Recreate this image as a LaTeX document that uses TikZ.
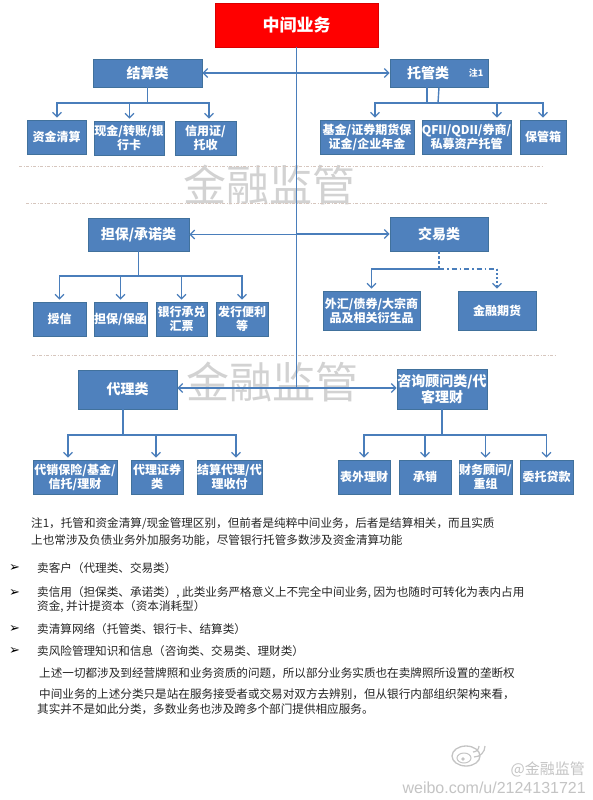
\documentclass[tikz,border=0pt]{standalone}
\usepackage{fontspec}
\setmainfont{Noto Sans CJK SC}
\newfontfamily\dejavu{DejaVu Sans}
\newfontfamily\liber{Liberation Sans}
\usetikzlibrary{arrows.meta}
\definecolor{boxblue}{HTML}{4F81BD}
\definecolor{boxedge}{HTML}{41719C}
\definecolor{conn}{HTML}{4A7EBB}
\definecolor{wm}{HTML}{D2D2D2}
\definecolor{sep}{HTML}{D6C6BE}
\definecolor{wbgray}{HTML}{C4C4C4}
\newcommand\bnode[7][]{\node[box,#1,minimum width={#4-#2},minimum height={#5-#3}] (#6) at ({(#2+#4)/2},{(#3+#5)/2}) {#7};}
\tikzset{
  box/.style={fill=boxblue,draw=boxedge,line width=0.6pt,text=white,align=center,inner sep=0pt,
     font=\bfseries\fontsize{12}{14}\selectfont},
  cat/.style={font=\bfseries\fontsize{14}{16}\selectfont},
  conn/.style={draw=conn,line width=1.4pt},
  arr/.style={conn,-{Straight Barb[length=4.5pt,width=9pt,line width=1.3pt]}},
  sepline/.style={draw=sep,line width=0.9pt,dash pattern=on 3pt off 1.5pt on 1pt off 1.5pt},
  wmark/.style={text=wm,font=\fontsize{43}{43}\selectfont},
  txt/.style={anchor=west,inner sep=0pt,text=black!85,font=\fontsize{11.6}{14}\selectfont},
  bul/.style={anchor=west,inner sep=0pt,text=black,font=\dejavu\bfseries\fontsize{13}{14}\selectfont},
}
\begin{document}
\begin{tikzpicture}[x=1pt,y=-1pt]
\useasboundingbox[fill=white] (0,0) rectangle (592,800);
% watermarks
\node[wmark] (wm1) at (269,185) {金融监管};
\node[wmark] (wm2) at (272,382) {金融监管};
% separators
\coordinate (s1a) at (19,166); \coordinate (s1b) at (543,166);
\coordinate (s2a) at (26,203); \coordinate (s2b) at (547,203);
\coordinate (s3a) at (32,355); \coordinate (s3b) at (555,355);
\draw[sepline] (s1a) -- (s1b);
\draw[sepline] (s2a) -- (s2b);
\draw[sepline] (s3a) -- (s3b);
% top
\node[fill=red,draw=red!85!black,line width=0.6pt,text=white,inner sep=0pt,
  minimum width=163pt,minimum height=44pt,font=\bfseries\fontsize{17}{19}\selectfont] (top) at (296.5,25) {中间业务};
% categories
\bnode[cat]{93}{59}{202}{87}{jiesuan}{结算类}
\bnode[cat]{390}{59}{488}{87}{tuoguan}{托管类\hspace{22pt}}
\node[text=white,font=\bfseries\fontsize{9}{10}\selectfont,inner sep=0pt] (note1) at (476,73) {注1};
\bnode[cat]{88}{218}{189}{251}{danbao}{担保/承诺类}
\bnode[cat]{390}{217}{488}{251}{jiaoyi}{交易类}
\bnode[cat]{78}{370}{177}{409}{daili}{代理类}
\bnode[cat]{397}{369}{487}{409}{zixun}{咨询顾问类/代\\客理财}
% row 1 children
\bnode{27}{120}{86}{154}{c1}{资金清算}
\bnode{94}{121}{164}{155}{c2}{现金/转账/银\\行卡}
\bnode{175}{121}{236}{155}{c3}{信用证/\\托收}
\bnode{320}{120}{414}{154}{t1}{基金/证券期货保\\证金/企业年金}
\bnode{423}{120}{510}{154}{t2}{QFII/QDII/券商/\\私募资产托管}
\bnode{520}{120}{566}{154}{t3}{保管箱}
% row 2 children
\bnode{33}{302}{86}{336}{d1}{授信}
\bnode{94}{302}{147}{336}{d2}{担保/保函}
\bnode{156}{302}{207}{336}{d3}{银行承兑\\汇票}
\bnode{216}{302}{268}{336}{d4}{发行便利\\等}
\bnode{323}{291}{420}{330}{j1}{外汇/债券/大宗商\\品及相关衍生品}
\bnode{458}{291}{536}{330}{j2}{金融期货}
% row 3 children
\bnode{33}{460}{117}{494}{a1}{代销保险/基金/\\信托/理财}
\bnode{131}{460}{183}{494}{a2}{代理证券\\类}
\bnode{197}{460}{262}{494}{a3}{结算代理/代\\理收付}
\bnode{338}{460}{390}{494}{z1}{表外理财}
\bnode{399}{460}{451}{494}{z2}{承销}
\bnode{459}{460}{512}{494}{z3}{财务顾问/\\重组}
\bnode{520}{460}{573}{494}{z4}{委托贷款}
% trunk
\coordinate (trunkend) at (296.5,388);
\draw[conn] (top.south) -- (trunkend);
\draw[arr] (top.south |- jiesuan.east) -- (jiesuan.east);
\draw[arr] (top.south |- tuoguan.west) -- (tuoguan.west);
\draw[arr] (top.south |- danbao.east) -- (danbao.east);
\draw[arr] (top.south |- jiaoyi.west) -- (jiaoyi.west);
\draw[arr] (trunkend) -- (trunkend -| daili.east);
\draw[arr] (trunkend) -- (trunkend -| zixun.west);
% jiesuan children
\coordinate (jb) at (147.5,103);
\draw[conn] (jiesuan.south) -- (jb);
\draw[arr] (jb) -| ([xshift=0.5pt,yshift=2pt]c1.north);
\draw[arr] (jb) -| ([xshift=0.5pt,yshift=2pt]c2.north);
\draw[arr] (jb) -| ([xshift=3.5pt,yshift=2pt]c3.north);
% tuoguan children
\coordinate (tb) at (438,103);
\coordinate (tb2) at (427,103);
\draw[conn] (tuoguan.south) -- (tb);
\draw[conn] (tuoguan.south -| tb2) -- (tb2);
\draw[arr] (tb) -| ([xshift=8pt,yshift=2pt]t1.north);
\draw[arr] (tb) -| ([xshift=30.5pt,yshift=2pt]t2.north);
\draw[arr] (tb) -| ([yshift=2pt]t3.north);
% danbao children
\coordinate (db) at (138.5,276);
\draw[conn] (danbao.south) -- (db);
\foreach \n in {d1,d2,d3,d4}{\draw[arr] (db) -| ([yshift=2pt]\n.north);}
% jiaoyi children
\coordinate (jyb) at (439,269);
\draw[conn,dash pattern=on 3pt off 2pt] (jiaoyi.south) -- (jyb);
\draw[arr] (jyb) -| ([yshift=2pt]j1.north);
\draw[conn,dash pattern=on 5pt off 3pt on 1.5pt off 3pt] (jyb) -- (jyb -| j2.north);
\draw[arr,dash pattern=on 2pt off 2pt] (jyb -| j2.north) -- ([yshift=2pt]j2.north);
% daili children
\coordinate (dlb) at (123,435);
\draw[conn] (daili.south -| dlb) -- (dlb);
\draw[arr] (dlb) -| ([xshift=-7pt,yshift=2pt]a1.north);
\draw[arr] (dlb) -| ([xshift=-1pt,yshift=2pt]a2.north);
\draw[arr] (dlb) -| ([xshift=6.5pt,yshift=2pt]a3.north);
% zixun children
\coordinate (zxb) at (442,435);
\draw[conn] (zixun.south) -- (zxb);
\foreach \n in {z1,z2,z3,z4}{\draw[arr] (zxb) -| ([yshift=2pt]\n.north);}
% notes text
\node[txt] (n1) at (31,524) {注1，托管和资金清算/现金管理区别，但前者是纯粹中间业务，后者是结算相关，而且实质};
\node[txt] (n2) at (31,540) {上也常涉及负债业务外加服务功能，尽管银行托管多数涉及资金清算功能};
\node[bul] (b1) at (9,568) {➢};
\node[txt] (n3) at (37,568) {卖客户（代理类、交易类）};
\node[bul] (b2) at (9,593) {➢};
\node[txt] (n4) at (37,593) {卖信用（担保类、承诺类）, 此类业务严格意义上不完全中间业务, 因为也随时可转化为表内占用};
\node[txt] (n5) at (37,607) {资金, 并计提资本（资本消耗型）};
\node[bul] (b3) at (9,629) {➢};
\node[txt] (n6) at (37,629) {卖清算网络（托管类、银行卡、结算类）};
\node[bul] (b4) at (9,651) {➢};
\node[txt] (n7) at (37,651) {卖风险管理知识和信息（咨询类、交易类、理财类）};
\node[txt] (n8) at (39,673) {上述一切都涉及到经营牌照和业务资质的问题，所以部分业务实质也在卖牌照所设置的垄断权};
\node[txt] (n9) at (39,694) {中间业务的上述分类只是站在服务接受者或交易对双方去辨别，但从银行内部组织架构来看，};
\node[txt] (n10) at (37,709) {其实并不是如此分类，多数业务也涉及跨多个部门提供相应服务。};
% weibo watermark
\draw[wbgray,line width=1.3pt] (466,756) ellipse (14 and 10);
\draw[wbgray,line width=1pt] (464,758) ellipse (7 and 5);
\fill[wbgray] (463,759) circle (1.8);
\draw[wbgray,line width=1.2pt] (479,746) arc (0:90:6);
\draw[wbgray,line width=1.2pt] (485,746) arc (0:90:11);
\node[text=wbgray,font=\fontsize{15}{16}\selectfont,anchor=east,inner sep=0pt] (wb1) at (585,769) {@金融监管};
\node[text=wbgray,font=\liber\fontsize{16}{17}\selectfont,anchor=east,inner sep=0pt] (wb2) at (586,788) {weibo.com/u/2124131721};
\end{tikzpicture}
\end{document}
